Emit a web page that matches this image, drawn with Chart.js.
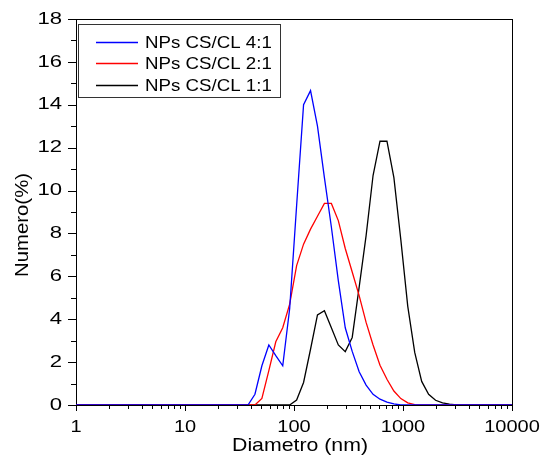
<!DOCTYPE html>
<html>
<head>
<meta charset="utf-8">
<script src="https://cdn.jsdelivr.net/npm/chart.js"></script>
<style>
  html, body { margin: 0; padding: 0; background: #fff; }
  #sizeChart { display: block; }
</style>
</head>
<body>
<canvas id="sizeChart" width="541" height="455"></canvas>
<script>
// DLS size bins (nm)
const sizes = [0.4, 32.67, 37.84, 43.82, 50.75, 58.77, 68.06, 78.82, 91.28, 105.7,
  122.4, 141.8, 164.2, 190.1, 220.2, 255.0, 295.3, 342.0, 396.1, 458.7,
  531.2, 615.1, 712.4, 825.0, 955.4, 1106, 1281, 1484, 1718, 1990,
  2305, 2669, 3091, 3580, 10000];

// Numero (%) per bin
const cs41 = [0, 0, 0, 0.5, 1.83, 2.8, 2.3, 1.83, 4.5, 9.3,
  14.0, 14.66, 13.0, 10.6, 8.3, 5.8, 3.6, 2.5, 1.55, 0.93,
  0.5, 0.27, 0.13, 0.05, 0, 0, 0, 0, 0, 0,
  0, 0, 0, 0, 0];
const cs21 = [0, 0, 0, 0, 0.31, 1.6, 2.95, 3.6, 4.7, 6.5,
  7.5, 8.2, 8.8, 9.4, 9.4, 8.6, 7.3, 6.2, 5.1, 3.85,
  2.8, 1.85, 1.2, 0.65, 0.3, 0.1, 0.02, 0, 0, 0,
  0, 0, 0, 0, 0];
const cs11 = [0, 0, 0, 0, 0, 0, 0, 0, 0, 0.23,
  1.05, 2.6, 4.2, 4.4, 3.6, 2.8, 2.49, 3.15, 5.5, 7.9,
  10.7, 12.3, 12.3, 10.6, 7.7, 4.6, 2.45, 1.1, 0.5, 0.22,
  0.1, 0.04, 0, 0, 0];

const seriesLabels = ['NPs CS/CL 4:1', 'NPs CS/CL 2:1', 'NPs CS/CL 1:1'];
const seriesColors = ['#0000ff', '#ff0000', '#000000'];

const xTickValues = [1, 10, 100, 1000, 10000];
const yTickValues = [0, 2, 4, 6, 8, 10, 12, 14, 16, 18];

const FONT = '"Liberation Sans", Arial, sans-serif';

function toPoints(values) {
  return values.map((v, i) => ({ x: sizes[i], y: v }));
}

// text with a horizontal stretch, the original glyphs are a bit wide
function stretchedText(ctx, text, x, y, size, sx, align, baseline, angle) {
  ctx.save();
  ctx.translate(x, y);
  if (angle) ctx.rotate(angle);
  ctx.scale(sx, 1);
  ctx.font = size + 'px ' + FONT;
  ctx.textAlign = align;
  ctx.textBaseline = baseline;
  ctx.fillStyle = '#000';
  ctx.fillText(text, 0, 0);
  ctx.restore();
}

const framePlugin = {
  id: 'frame',
  beforeDatasetsDraw(chart) {
    const { ctx, chartArea: a } = chart;
    ctx.save();
    ctx.strokeStyle = '#000';
    ctx.lineWidth = 1;
    ctx.strokeRect(a.left + 0.5, a.top + 0.5, a.right - a.left, a.bottom - a.top);
    ctx.restore();
  },
  afterDraw(chart) {
    const { ctx, chartArea: a } = chart;
    const xs = chart.scales.x, ys = chart.scales.y;
    ctx.save();
    ctx.strokeStyle = '#000';
    ctx.lineWidth = 1;
    ctx.beginPath();
    // x ticks, log minors
    for (let k = 0; k <= 4; k++) {
      for (let m = 1; m <= 9; m++) {
        const v = m * Math.pow(10, k);
        if (v > 10000) break;
        const px = Math.round(xs.getPixelForValue(v)) + 0.5;
        const len = m === 1 ? 6 : 4;
        ctx.moveTo(px, a.bottom);
        ctx.lineTo(px, a.bottom + len);
      }
    }
    // y ticks
    for (let v = 0; v <= 18; v++) {
      const py = Math.round(ys.getPixelForValue(v)) + 0.5;
      const len = v % 2 === 0 ? 8 : 5;
      ctx.moveTo(a.left, py);
      ctx.lineTo(a.left - len, py);
    }
    ctx.stroke();
    ctx.restore();

    xTickValues.forEach(v => {
      stretchedText(ctx, String(v), xs.getPixelForValue(v), 432, 16, 1.25, 'center', 'alphabetic');
    });
    yTickValues.forEach(v => {
      stretchedText(ctx, String(v), 62, ys.getPixelForValue(v), 17, 1.3, 'right', 'middle');
    });

    stretchedText(ctx, 'Diametro (nm)', 300, 451, 19, 1.12, 'center', 'alphabetic');
    stretchedText(ctx, 'Numero(%)', 28, 225, 18, 1.13, 'center', 'alphabetic', -Math.PI / 2);

    // legend box
    const bx = 78, by = 24, bw = 202, bh = 73;
    ctx.save();
    ctx.fillStyle = '#fff';
    ctx.fillRect(bx, by, bw, bh);
    ctx.strokeStyle = '#333';
    ctx.lineWidth = 1;
    ctx.strokeRect(bx + 0.5, by + 0.5, bw, bh);
    chart.data.datasets.forEach((ds, i) => {
      const ly = 41.5 + i * 21.7;
      ctx.strokeStyle = ds.borderColor;
      ctx.lineWidth = 1.3;
      ctx.beginPath();
      ctx.moveTo(96, Math.round(ly) + 0.5);
      ctx.lineTo(138, Math.round(ly) + 0.5);
      ctx.stroke();
      stretchedText(ctx, ds.label, 145, ly + 6, 17, 1.1, 'left', 'alphabetic');
    });
    ctx.restore();
  }
};

function initializeChart() {
  const ctx = document.getElementById('sizeChart').getContext('2d');
  new Chart(ctx, {
    type: 'line',
    data: {
      datasets: [cs41, cs21, cs11].map((vals, i) => ({
        label: seriesLabels[i],
        data: toPoints(vals),
        borderColor: seriesColors[i],
        borderWidth: 1.3,
        pointRadius: 0,
        tension: 0,
        fill: false
      }))
    },
    options: {
      responsive: false,
      animation: false,
      layout: { padding: { left: 76, right: 29, top: 19, bottom: 50 } },
      scales: {
        x: { type: 'logarithmic', min: 1, max: 10000, display: false },
        y: { type: 'linear', min: 0, max: 18, display: false }
      },
      plugins: {
        legend: { display: false },
        tooltip: { enabled: false }
      }
    },
    plugins: [framePlugin]
  });
}

document.addEventListener('DOMContentLoaded', initializeChart);
</script>
</body>
</html>
